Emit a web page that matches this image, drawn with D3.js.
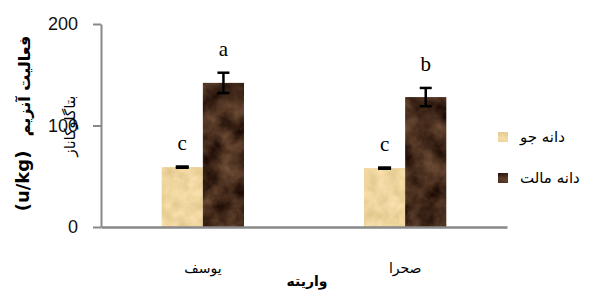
<!DOCTYPE html>
<html>
<head>
<meta charset="utf-8">
<script src="https://cdn.jsdelivr.net/npm/d3@7"></script>
<style>
  body { margin: 0; background: #fff; }
  svg { display: block; }
</style>
</head>
<body>
<div id="chart"></div>
<script>
// values
const varieties = ['یوسف', 'صحرا'];
const seriesNames = ['دانه جو', 'دانه مالت'];
const grainValues = [59, 58];
const grainErrors = [0.6, 0.6];
const maltValues = [142, 128];
const maltErrors = [10, 9];
const grainLetters = ['c', 'c'];
const maltLetters = ['a', 'b'];
const yTicks = [0, 100, 200];

const width = 595,
  height = 291,
  margin = { top: 24, right: 88, bottom: 64, left: 101 };

const svg = d3
  .select('#chart')
  .append('svg')
  .attr('width', width)
  .attr('height', height);

svg.append('rect').attr('width', width).attr('height', height).attr('fill', '#fff');

// textures for the bars (papyrus + marble look)
const defs = svg.append('defs');
const makeTexture = (id, type, freq, matrix) => {
  const f = defs
    .append('filter')
    .attr('id', id)
    .attr('x', 0)
    .attr('y', 0)
    .attr('width', 1)
    .attr('height', 1)
    .attr('color-interpolation-filters', 'sRGB');
  f.append('feTurbulence')
    .attr('type', type)
    .attr('baseFrequency', freq)
    .attr('numOctaves', 4)
    .attr('seed', 7)
    .attr('result', 'noise');
  f.append('feColorMatrix')
    .attr('in', 'noise')
    .attr('type', 'matrix')
    .attr('values', matrix)
    .attr('result', 'tint');
  f.append('feComposite')
    .attr('in', 'tint')
    .attr('in2', 'SourceGraphic')
    .attr('operator', 'in');
};
makeTexture('tex-grain', 'fractalNoise', 0.09,
  '0.15 0 0 0 0.86  0.15 0 0 0 0.76  0.2 0 0 0 0.52  0 0 0 0 1');
makeTexture('tex-malt', 'fractalNoise', 0.05,
  '0.5 0 0 0 0.02  0.4 0 0 0 -0.03  0.3 0 0 0 -0.04  0 0 0 0 1');

const textures = ['url(#tex-grain)', 'url(#tex-malt)'];
const baseColors = ['#ecd59c', '#4b2e1d'];

const x0 = d3
  .scaleBand()
  .domain(varieties)
  .range([margin.left, width - margin.right])
  .paddingInner(0.593)
  .paddingOuter(0.3);

const x1 = d3
  .scaleBand()
  .domain(seriesNames)
  .range([0, x0.bandwidth()]);

const y = d3
  .scaleLinear()
  .domain([0, 200])
  .range([height - margin.bottom, margin.top]);

const rows = varieties.map((v, i) => [
  { variety: v, series: seriesNames[0], idx: 0, value: grainValues[i], err: grainErrors[i], letter: grainLetters[i] },
  { variety: v, series: seriesNames[1], idx: 1, value: maltValues[i], err: maltErrors[i], letter: maltLetters[i] },
]);
const flat = rows.flat();

// bars
svg
  .append('g')
  .selectAll('rect')
  .data(flat)
  .join('rect')
  .attr('x', d => x0(d.variety) + x1(d.series))
  .attr('y', d => y(d.value))
  .attr('width', x1.bandwidth())
  .attr('height', d => y(0) - y(d.value))
  .attr('fill', d => baseColors[d.idx])
  .attr('filter', d => textures[d.idx]);

// error bars
const eb = svg.append('g').attr('stroke', '#000').attr('stroke-width', 2.5);
flat.forEach(d => {
  const cx = x0(d.variety) + x1(d.series) + x1.bandwidth() / 2;
  const capW = d.idx === 0 ? 6.5 : 6;
  eb.append('line').attr('x1', cx).attr('x2', cx).attr('y1', y(d.value + d.err)).attr('y2', y(d.value - d.err));
  eb.append('line').attr('x1', cx - capW).attr('x2', cx + capW).attr('y1', y(d.value + d.err)).attr('y2', y(d.value + d.err));
  eb.append('line').attr('x1', cx - capW).attr('x2', cx + capW).attr('y1', y(d.value - d.err)).attr('y2', y(d.value - d.err));
});

// significance letters
svg
  .append('g')
  .selectAll('text')
  .data(flat)
  .join('text')
  .attr('x', d => x0(d.variety) + x1(d.series) + x1.bandwidth() / 2)
  .attr('y', d => y(d.value + d.err) - 17)
  .attr('text-anchor', 'middle')
  .attr('font-family', '"Liberation Serif", serif')
  .attr('font-size', 21)
  .attr('fill', '#000')
  .text(d => d.letter);

// y axis
const yAxis = svg
  .append('g')
  .attr('transform', `translate(${margin.left},0)`)
  .call(d3.axisLeft(y).tickValues(yTicks).tickSize(8).tickSizeOuter(0).tickPadding(15));
yAxis.select('.domain').attr('stroke', '#888').attr('stroke-width', 2);
yAxis.selectAll('.tick line').attr('stroke', '#888').attr('stroke-width', 2);
yAxis
  .selectAll('.tick text')
  .attr('font-family', '"Liberation Sans", Arial, sans-serif')
  .attr('font-size', 18)
  .attr('fill', '#111');

// x axis
const xAxis = svg
  .append('g')
  .attr('transform', `translate(0,${y(0)})`)
  .call(d3.axisBottom(x0).tickSize(0).tickPadding(36));
xAxis.select('.domain').attr('stroke', '#888').attr('stroke-width', 2.5);
xAxis
  .selectAll('.tick text')
  .attr('font-family', '"DejaVu Sans", sans-serif')
  .attr('font-size', 14)
  .attr('fill', '#000');

// axis titles
svg
  .append('text')
  .attr('x', 307)
  .attr('y', 286)
  .attr('text-anchor', 'middle')
  .attr('font-family', '"DejaVu Sans", sans-serif')
  .attr('font-weight', 'bold')
  .attr('font-size', 14)
  .text('واریته');

const yTitle = (txt, cx, cy, size, weight) => {
  svg
    .append('text')
    .attr('transform', `translate(${cx},${cy}) rotate(-90)`)
    .attr('text-anchor', 'middle')
    .attr('dominant-baseline', 'central')
    .attr('font-family', '"DejaVu Sans", sans-serif')
    .attr('font-size', size)
    .attr('font-weight', weight)
    .text(txt);
};
yTitle('فعالیت آنزیم', 24, 86, 16, 'bold');
yTitle('(u/kg)', 22, 181, 18, 'bold');
yTitle('بتاگلوکاناز', 70, 126, 15, 'normal');

// legend
const legend = svg
  .append('g')
  .selectAll('g')
  .data(seriesNames)
  .join('g')
  .attr('transform', (d, i) => `translate(498,${137 + i * 41})`);
legend
  .append('rect')
  .attr('y', -5)
  .attr('width', 10)
  .attr('height', 10)
  .attr('fill', (d, i) => baseColors[i])
  .attr('filter', (d, i) => textures[i]);
legend
  .append('text')
  .attr('x', 22)
  .attr('dominant-baseline', 'central')
  .attr('font-family', '"DejaVu Sans", sans-serif')
  .attr('font-size', 15)
  .text(d => d);
</script>
</body>
</html>
